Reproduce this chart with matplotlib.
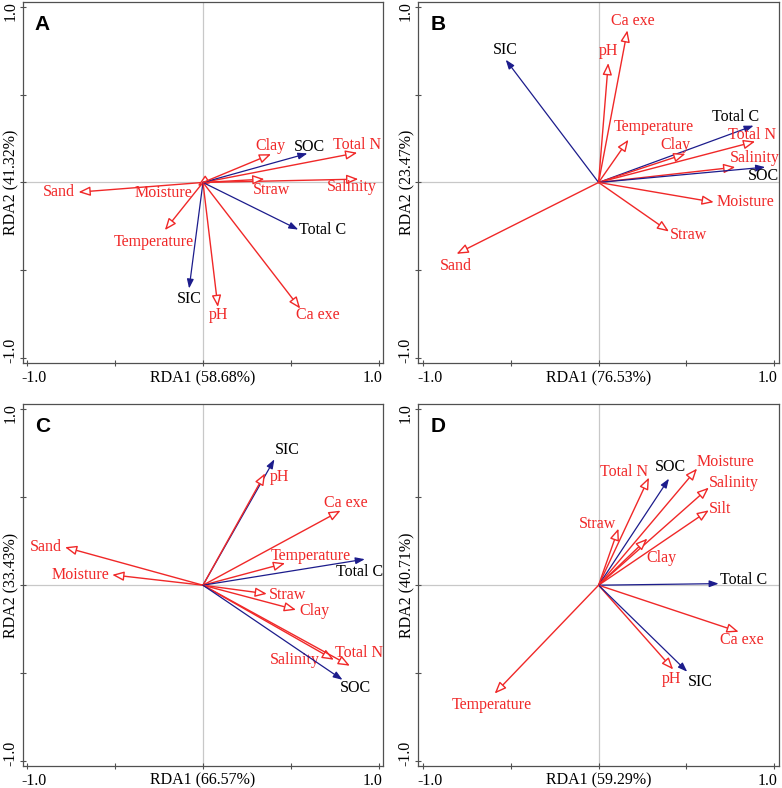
import matplotlib
matplotlib.use("Agg")
from matplotlib import pyplot as plt

# RDA biplot loadings (RDA1, RDA2)
carbon = ["SOC", "SIC", "Total C"]

a_names = ["Sand", "Moisture", "Temperature", "SIC", "pH", "Ca exe", "Total C",
           "Salinity", "Straw", "Total N", "SOC", "Clay"]
a_x = [-0.709, -0.030, -0.217, -0.079, 0.085, 0.554, 0.543, 0.885, 0.350, 0.879, 0.595, 0.388]
a_y = [-0.055, -0.020, -0.271, -0.603, -0.708, -0.717, -0.268, 0.019, 0.019, 0.169, 0.165, 0.161]

b_names = ["SIC", "pH", "Ca exe", "Temperature", "Total C", "Total N", "Clay",
           "Salinity", "SOC", "Moisture", "Straw", "Sand"]
b_x = [-0.529, 0.055, 0.164, 0.170, 0.883, 0.892, 0.495, 0.779, 0.949, 0.656, 0.401, -0.809]
b_y = [0.698, 0.679, 0.865, 0.243, 0.323, 0.233, 0.163, 0.087, 0.087, -0.112, -0.279, -0.406]

c_names = ["SIC", "pH", "Ca exe", "Temperature", "Total C", "Sand", "Moisture",
           "Straw", "Clay", "Salinity", "Total N", "SOC"]
c_x = [0.407, 0.354, 0.784, 0.468, 0.922, -0.786, -0.517, 0.364, 0.530, 0.746, 0.837, 0.795]
c_y = [0.716, 0.636, 0.424, 0.125, 0.148, 0.216, 0.059, -0.049, -0.140, -0.424, -0.458, -0.538]

d_names = ["Total N", "SOC", "Moisture", "Salinity", "Silt", "Straw", "Clay",
           "Total C", "Ca exe", "pH", "SIC", "Temperature"]
d_x = [0.287, 0.401, 0.561, 0.628, 0.628, 0.113, 0.278, 0.684, 0.798, 0.425, 0.505, -0.592]
d_y = [0.612, 0.606, 0.663, 0.555, 0.426, 0.322, 0.265, 0.009, -0.265, -0.479, -0.492, -0.616]

# label offsets from arrow tips (points)
a_off = [(-14, 0), (-25, -5), (-8, -8.5), (0, -7.7), (0.5, -6), (13, -4.8), (17.5, -0.5),
         (-5, -5.5), (5.3, -8), (0, 5.4), (1.2, 4.8), (-0.5, 6)]
b_off = [(0, 7.2), (0, 8.4), (3.6, 6.5), (18, 9), (-12.7, 6.2), (-2.4, 4.8), (-7.2, 6.5),
         (13.7, 6.5), (-1.2, -6.7), (22.8, 0), (14, -2.4), (-0.7, -8.6)]
c_off = [(9.4, 6.7), (10.3, -2.4), (3.8, 5.3), (18.7, 5.5), (-4, -9.4), (-14, 0.5), (-23, 0),
         (15, -0.7), (13, -1.2), (-28.5, -0.5), (6.5, 9), (9.4, -6)]
d_off = [(-18, 4), (1.2, 8.4), (20.4, 4.8), (18, 3), (8.4, 1.2), (-15, 3.6), (10, -14),
         (18, 2.4), (2, -6), (-1.4, -7), (9.6, -7.2), (-2.4, -8)]

panels = [
    ("A", "RDA1 (58.68%)", "RDA2 (41.32%)", a_names, a_x, a_y, a_off),
    ("B", "RDA1 (76.53%)", "RDA2 (23.47%)", b_names, b_x, b_y, b_off),
    ("C", "RDA1 (66.57%)", "RDA2 (33.43%)", c_names, c_x, c_y, c_off),
    ("D", "RDA1 (59.29%)", "RDA2 (40.71%)", d_names, d_x, d_y, d_off),
]

RED = "#f02828"
BLUE = "#1c1c8c"
SERIF = "Liberation Serif"
FS = 11.5

fig = plt.figure(figsize=(7.82, 7.88), dpi=100)
boxes = [[0.0290, 0.5390, 0.4611, 0.4589], [0.5349, 0.5390, 0.4611, 0.4589],
         [0.0290, 0.0279, 0.4611, 0.4589], [0.5349, 0.0279, 0.4611, 0.4589]]

for box, (letter, xlab, ylab, names, xs, ys, offs) in zip(boxes, panels):
    ax = fig.add_axes(box)
    ax.set_xlim(-1.027, 1.027)
    ax.set_ylim(-1.028, 1.028)
    ax.axhline(0, color="#c8c8c8", lw=0.9, zorder=0)
    ax.axvline(0, color="#c8c8c8", lw=0.9, zorder=0)

    for name, x, y, off in zip(names, xs, ys, offs):
        if name in carbon:
            props = dict(arrowstyle="-|>,head_length=0.55,head_width=0.2", mutation_scale=10,
                         lw=0.9, ec=BLUE, fc=BLUE, shrinkA=0, shrinkB=0)
            tcol = "black"
        else:
            props = dict(arrowstyle="-|>,head_length=0.7,head_width=0.28", mutation_scale=10,
                         lw=1.0, ec=RED, fc="white", shrinkA=0, shrinkB=0)
            tcol = RED
        ax.annotate("", xy=(x, y), xytext=(0, 0), arrowprops=props)
        ax.annotate(name, xy=(x, y), xytext=off, textcoords="offset points",
                    ha="center", va="center", color=tcol, fontsize=FS, family=SERIF)

    ticks = [-1, -0.5, 0, 0.5, 1]
    ax.set_xticks(ticks)
    ax.set_yticks(ticks)
    ax.set_xticklabels([])
    ax.set_yticklabels([])
    ax.tick_params(direction="inout", length=4, width=0.8, color="#505050")
    for s in ax.spines.values():
        s.set_color("#505050")
        s.set_linewidth(0.9)

    # end tick labels, pulled slightly inward like the original
    kw = dict(textcoords="offset points", ha="center", va="center", fontsize=FS, family=SERIF)
    ax.annotate("-1.0", xy=(-1, 0), xycoords=("data", "axes fraction"), xytext=(5, -10.6), **kw)
    ax.annotate("1.0", xy=(1, 0), xycoords=("data", "axes fraction"), xytext=(-4.5, -10.6), **kw)
    ax.annotate("-1.0", xy=(0, -1), xycoords=("axes fraction", "data"), xytext=(-9, 5.8),
                rotation=90, **kw)
    ax.annotate("1.0", xy=(0, 1), xycoords=("axes fraction", "data"), xytext=(-9, -3),
                rotation=90, **kw)

    ax.text(0.5, -0.041, xlab, transform=ax.transAxes, ha="center", va="center",
            fontsize=FS, family=SERIF)
    ax.text(-0.030, 0.5, ylab, transform=ax.transAxes, ha="center", va="center",
            rotation=90, fontsize=FS, family=SERIF)
    ax.text(0.055, 0.938, letter, transform=ax.transAxes, ha="center", va="center",
            fontsize=15, fontweight="bold", family="Liberation Sans")

fig.savefig("out.png", dpi=100)
